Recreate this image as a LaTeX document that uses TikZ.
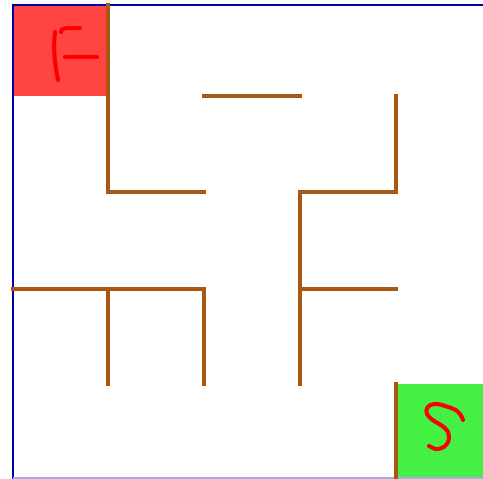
\documentclass[tikz,border=0pt]{standalone}
\definecolor{wallc}{RGB}{168,88,16}
\definecolor{borderc}{RGB}{0,0,160}
\definecolor{borderlight}{RGB}{170,170,230}
\definecolor{finishc}{RGB}{255,68,68}
\definecolor{startc}{RGB}{68,240,68}
\definecolor{letterc}{RGB}{250,0,0}
\begin{document}
\begin{tikzpicture}[x=1pt,y=-1pt,
  wall/.style={draw=wallc,line width=4pt,line cap=rect},
  border/.style={draw=borderc,line width=2.2pt},
  letter/.style={draw=letterc,line width=4pt,line cap=round,line join=round}]
\useasboundingbox (0,0) rectangle (483,479);
\fill[white] (0,0) rectangle (483,479);
% start / finish cells
\fill[finishc] (13,5) rectangle (108,96);
\fill[startc] (396,384) rectangle (483,479);
% outer border
\draw[border] (13,479) -- (13,5) -- (483,5);
\draw[draw=borderlight,line width=1.5pt] (13,478) -- (483,478);
% walls
\draw[wall] (108,5) -- (108,192) -- (204,192);
\draw[wall] (204,96) -- (300,96);
\draw[wall] (396,96) -- (396,192) -- (300,192) -- (300,384);
\draw[wall] (300,289) -- (396,289);
\draw[wall] (13,289) -- (204,289) -- (204,384);
\draw[wall] (108,289) -- (108,384);
\draw[wall] (396,384) -- (396,479);
% hand-drawn letters
\draw[letter] (55,32) .. controls (53,50) and (55,65) .. (58,80);
\draw[letter] (61,32) .. controls (62,28) .. (80,28);
\draw[letter] (65,57) -- (97,57);
\draw[letter] (463,420) .. controls (460,410) and (452,408) .. (445,406)
  .. controls (433,401) and (424,406) .. (427,414)
  .. controls (431,422) and (444,424) .. (448,432)
  .. controls (452,442) and (444,450) .. (435,449)
  -- (429,446);
\end{tikzpicture}
\end{document}
